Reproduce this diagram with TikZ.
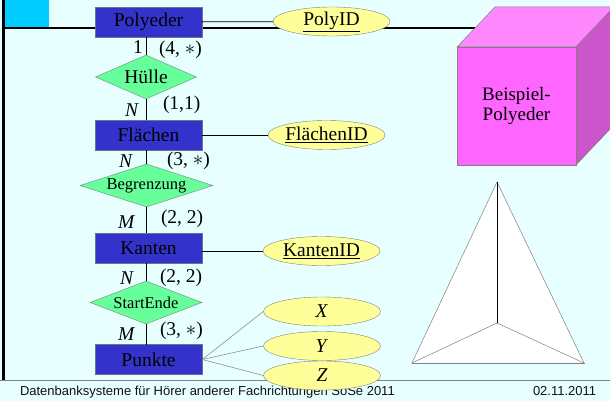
\documentclass[tikz,border=0pt]{standalone}
\usepackage{fontspec}
\setmainfont{Liberation Serif}
\newfontfamily\footerfont{Liberation Sans}
\usetikzlibrary{shapes.geometric}
\begin{document}
\begin{tikzpicture}[x=1pt,y=-1pt,line cap=rect,
	entity/.style={rectangle, draw=custcol_70_70_90, line width=0.6pt, fill=custcol_33_33_cc, minimum width=107pt, minimum height=30pt, inner sep=0, font=\fontsize{19.5pt}{20pt}\selectfont},
	relship/.style={diamond, draw=custcol_80_80_80, line width=0.4pt, fill=custcol_66_ff_99, inner sep=0},
	attrib/.style={ellipse, draw=custcol_80_80_80, line width=0.4pt, fill=custcol_ff_ff_99, minimum width=117pt, minimum height=29pt, inner sep=0, font=\fontsize{19.5pt}{20pt}\selectfont},
	card/.style={inner sep=0, outer sep=0, anchor=base west, font=\fontsize{19.5pt}{20pt}\selectfont},
	footer/.style={inner sep=0, outer sep=0, anchor=base west, font=\footerfont\fontsize{13pt}{13pt}\selectfont, custcol_10_10_10}]
	\definecolor{custcol_bg}{RGB}{232, 255, 255}
	\definecolor{custcol_0_0_0}{RGB}{0, 0, 0}
	\definecolor{custcol_10_10_10}{RGB}{16, 16, 16}
	\definecolor{custcol_80_80_80}{RGB}{128, 128, 128}
	\definecolor{custcol_70_70_90}{RGB}{112, 112, 144}
	\definecolor{custcol_00_cc_ff}{RGB}{0, 204, 255}
	\definecolor{custcol_33_33_cc}{RGB}{51, 51, 204}
	\definecolor{custcol_66_ff_99}{RGB}{102, 255, 153}
	\definecolor{custcol_ff_ff_99}{RGB}{255, 255, 153}
	\definecolor{custcol_ff_66_ff}{RGB}{255, 102, 255}
	\definecolor{custcol_ff_88_ff}{RGB}{255, 136, 255}
	\definecolor{custcol_cc_55_cc}{RGB}{204, 85, 204}
	\useasboundingbox (0,0) rectangle (610,401);
	% slide frame
	\fill [custcol_bg] (0,0) rectangle (610,401);
	\fill [custcol_00_cc_ff] (4,0) rectangle (49,27);
	\draw [line width=2.5pt, custcol_0_0_0] (3.5,0) -- (3.5,380);
	\draw [line width=2.0pt, custcol_0_0_0] (4,28) -- (610,28);
	\draw [line width=0.8pt, custcol_80_80_80] (0,380.5) -- (610,380.5);
	\node [footer] (foottitle) at (20,395.5) {Datenbanksysteme für Hörer anderer Fachrichtungen SoSe 2011};
	\node [footer] (footdate) at (533,395.5) {02.11.2011};
	% example solids
	\draw [line width=0.5pt, custcol_80_80_80, fill=custcol_ff_88_ff] (457,47) -- (495,7) -- (614,7) -- (576,47) -- cycle;
	\draw [line width=0.5pt, custcol_80_80_80, fill=custcol_cc_55_cc] (576,47) -- (614,7) -- (614,125) -- (576,165) -- cycle;
	\draw [line width=0.5pt, custcol_80_80_80, fill=custcol_ff_66_ff] (457,47) rectangle (576,165);
	\node [align=center, font=\fontsize{19pt}{20pt}\selectfont, custcol_0_0_0] (cubetext) at (516.5,106) {Beispiel-\\Polyeder};
	\fill [white] (497,182) -- (584,363) -- (412,363) -- cycle;
	\draw [line width=0.5pt, custcol_80_80_80] (412,363) -- (497,182) -- (584,363);
	\draw [line width=1.0pt, custcol_80_80_80] (412,363) -- (584,363);
	\draw [line width=0.5pt, custcol_80_80_80] (412,363) -- (497,323) -- (584,363);
	\draw [line width=0.8pt, custcol_0_0_0] (497,182) -- (497,323);
	% entities, relationships, attributes
	\node [entity] (poly) at (148.5,22) {Polyeder};
	\node [entity] (flaechen) at (148.5,135) {Flächen};
	\node [entity] (kanten) at (148.5,248) {Kanten};
	\node [entity] (punkte) at (148.5,359.5) {Punkte};
	\node [relship, minimum width=101pt, minimum height=44pt, label={[font=\fontsize{19.5pt}{20pt}\selectfont]center:Hülle}] (huelle) at (146,77) {};
	\node [relship, minimum width=133pt, minimum height=43pt, label={[font=\fontsize{16.5pt}{17pt}\selectfont]center:Begrenzung}] (begrenzung) at (146.5,185.5) {};
	\node [relship, minimum width=112pt, minimum height=43pt, label={[font=\fontsize{16.5pt}{17pt}\selectfont]center:StartEnde}] (startende) at (146,302.5) {};
	\node [attrib] (polyid) at (331.5,21.5) {\underline{PolyID}};
	\node [attrib] (flaechenid) at (326.5,135) {\underline{FlächenID}};
	\node [attrib] (kantenid) at (321.5,251) {\underline{KantenID}};
	\node [attrib] (px) at (322,311.5) {\textit{X}};
	\node [attrib] (py) at (322,346) {\textit{Y}};
	\node [attrib] (pz) at (322,375.5) {\textit{Z}};
	% connectors
	\draw [line width=0.8pt, custcol_0_0_0] (poly) -- (polyid);
	\draw [line width=0.8pt, custcol_0_0_0] (flaechen) -- (flaechenid);
	\draw [line width=0.8pt, custcol_0_0_0] (kanten.east |- kantenid.west) -- (kantenid.west);
	\draw [line width=0.8pt, custcol_0_0_0] (huelle.north |- poly.south) -- (huelle.north);
	\draw [line width=0.8pt, custcol_0_0_0] (huelle.south) -- (huelle.south |- flaechen.north);
	\draw [line width=0.8pt, custcol_0_0_0] (begrenzung.north |- flaechen.south) -- (begrenzung.north);
	\draw [line width=0.8pt, custcol_0_0_0] (begrenzung.south) -- (begrenzung.south |- kanten.north);
	\draw [line width=0.8pt, custcol_0_0_0] (startende.north |- kanten.south) -- (startende.north);
	\draw [line width=0.8pt, custcol_0_0_0] (startende.south) -- (startende.south |- punkte.north);
	\draw [line width=0.5pt, custcol_80_80_80] (punkte.east) -- (px.west);
	\draw [line width=0.5pt, custcol_80_80_80] (punkte.east) -- (py.west);
	\draw [line width=0.5pt, custcol_80_80_80] (punkte.east) -- (pz.west);
	% cardinalities
	\node [card] (c1) at (133,54) {1};
	\node [card] (c2) at (159,55) {(4, $\ast$)};
	\node [card] (c3) at (125,117) {\textit{N}};
	\node [card] (c4) at (163,110) {(1,1)};
	\node [card] (c5) at (119,167) {\textit{N}};
	\node [card] (c6) at (167,165) {(3, $\ast$)};
	\node [card] (c7) at (118,228) {\textit{M}};
	\node [card] (c8) at (161,223) {(2, 2)};
	\node [card] (c9) at (120,284) {\textit{N}};
	\node [card] (c10) at (160,282) {(2, 2)};
	\node [card] (c11) at (118,340) {\textit{M}};
	\node [card] (c12) at (160,335) {(3, $\ast$)};
\end{tikzpicture}
\end{document}
